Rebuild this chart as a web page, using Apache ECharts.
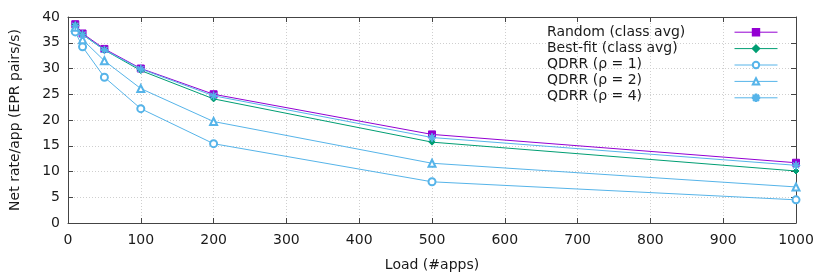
<!DOCTYPE html>
<html><head><meta charset="utf-8">
<script src="https://cdn.jsdelivr.net/npm/echarts@6/dist/echarts.min.js"></script>
<style>html,body{margin:0;padding:0;background:#fff}#c{width:830px;height:277px}</style>
</head><body><div id="c"></div>
<script>
const loads = [10, 20, 50, 100, 200, 500, 1000];
const randomAvg = [38.6, 36.8, 33.8, 30.0, 25.0, 17.2, 11.7];
const bestFitAvg = [38.5, 36.6, 33.6, 29.6, 24.1, 15.7, 10.1];
const qdrr1 = [37.1, 34.2, 28.3, 22.2, 15.4, 8.0, 4.5];
const qdrr2 = [38.0, 35.6, 31.5, 26.1, 19.7, 11.6, 7.0];
const qdrr4 = [38.3, 36.6, 33.6, 29.9, 24.7, 16.6, 11.2];
const seriesNames = ['Random (class avg)', 'Best-fit (class avg)', 'QDRR (ρ = 1)', 'QDRR (ρ = 2)', 'QDRR (ρ = 4)'];
const xTicks = {min: 0, max: 1000, interval: 100};
const yTicks = {min: 0, max: 40, interval: 5};

const asterisk = 'path://M-0.8,-10L0.8,-10L0.8,10L-0.8,10Z M-10,-0.8L10,-0.8L10,0.8L-10,0.8Z M-7.64,-6.5L-6.5,-7.64L7.64,6.5L6.5,7.64Z M-6.5,7.64L-7.64,6.5L6.5,-7.64L7.64,-6.5Z';
const font = 'DejaVu Sans';
const txt = '#1a1a1a';
function pts(v){ return loads.map((x,i)=>[x, v[i]]); }
function mk(name, data, color, symbol, size, z){
  return {name, type:'line', data: pts(data), symbol, symbolSize: size, z,
    lineStyle:{color, width:1}, itemStyle:{color, borderColor: color, borderWidth: 1},
    emphasis:{disabled:true}, animation:false};
}
const chart = echarts.init(document.getElementById('c'), null, {renderer:'canvas'});
const gridLine = {show:true, lineStyle:{color:'#cfcfcf', type:[1,2], width:1}};
const axLine = {show:true, onZero:false, lineStyle:{color:'#444', width:1}};
const axTick = {show:true, inside:true, length:5, lineStyle:{color:'#444'}};
const legendTexts = seriesNames.map((n, i) => ({
  type:'text', left:547, top:24 + 16*i, z:100,
  style:{text:n, fontFamily:font, fontSize:14, fill:txt, lineHeight:16}
}));
chart.setOption({
  backgroundColor:'#fff',
  textStyle:{fontFamily:font},
  grid:{left:66, right:34, top:17, bottom:52, containLabel:false},
  legend:{orient:'vertical', right:47, top:23, align:'right', itemWidth:43, itemHeight:8, itemGap:8,
    lineStyle:{width:1},
    formatter: () => '',
    textStyle:{fontSize:1, padding:0},
    data: seriesNames, selectedMode:false},
  graphic: legendTexts,
  xAxis:[
    {type:'value', min:xTicks.min, max:xTicks.max, interval:xTicks.interval, position:'bottom',
     axisLine:axLine, axisTick:axTick,
     axisLabel:{color:txt, fontSize:14, fontFamily:font, margin:10, formatter: v => String(v)},
     splitLine:gridLine,
     name:'Load (#apps)', nameLocation:'middle', nameGap:35, nameTextStyle:{color:txt, fontSize:14, fontFamily:font}},
    {type:'value', min:xTicks.min, max:xTicks.max, interval:xTicks.interval, position:'top',
     axisLine:axLine, axisTick:axTick, axisLabel:{show:false}, splitLine:{show:false}}
  ],
  yAxis:[
    {type:'value', min:yTicks.min, max:yTicks.max, interval:yTicks.interval, position:'left',
     axisLine:axLine, axisTick:axTick,
     axisLabel:{color:txt, fontSize:14, fontFamily:font, margin:8},
     splitLine:gridLine,
     name:'Net rate/app (EPR pairs/s)', nameLocation:'middle', nameGap:46, nameRotate:90,
     nameTextStyle:{color:txt, fontSize:14, fontFamily:font}},
    {type:'value', min:yTicks.min, max:yTicks.max, interval:yTicks.interval, position:'right',
     axisLine:axLine, axisTick:axTick, axisLabel:{show:false}, splitLine:{show:false}}
  ],
  series:[
    mk(seriesNames[0], randomAvg, '#9400d3', 'rect', 7, 2),
    mk(seriesNames[1], bestFitAvg, '#009e73', 'diamond', 6, 3),
    mk(seriesNames[2], qdrr1, '#56b4e9', 'emptyCircle', 7, 4),
    mk(seriesNames[3], qdrr2, '#56b4e9', 'emptyTriangle', 7, 5),
    mk(seriesNames[4], qdrr4, '#56b4e9', asterisk, 8, 6)
  ]
});
</script></body></html>
